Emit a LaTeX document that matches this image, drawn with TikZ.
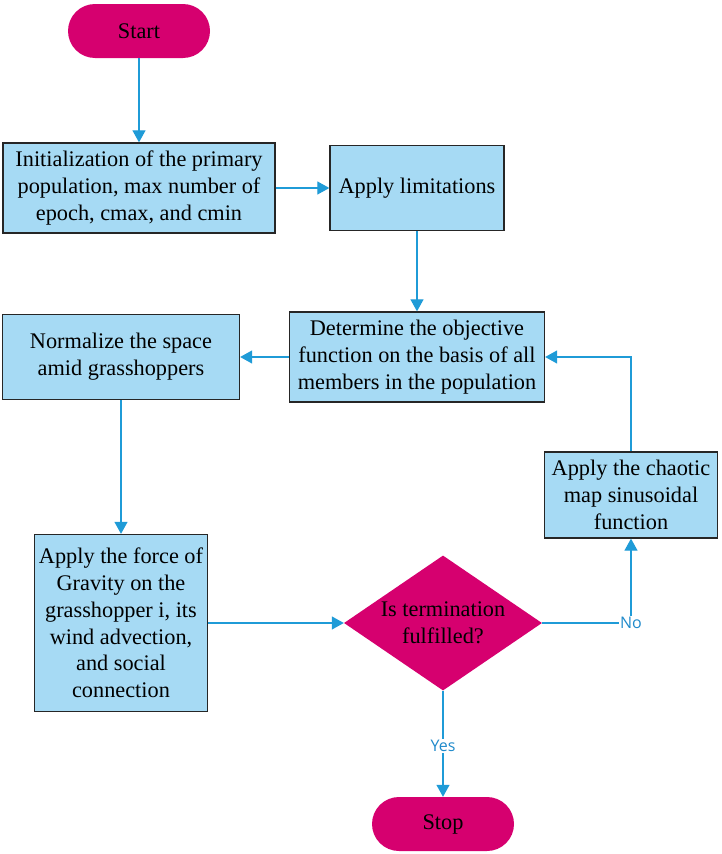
\documentclass[tikz,border=0pt]{standalone}
\usepackage{fontspec}
\setmainfont{Liberation Serif}
\newfontfamily\lblfont{Open Sans}
\usetikzlibrary{shapes.geometric,arrows.meta}
\definecolor{mag}{HTML}{D6006F}
\definecolor{boxfill}{HTML}{A6DAF4}
\definecolor{arr}{HTML}{1F9BD7}
\definecolor{lbl}{HTML}{1F8ACB}
\definecolor{edge}{HTML}{262626}
\tikzset{
  term/.style={fill=mag, draw=none, rounded corners=27pt, minimum width=142pt, minimum height=54pt, inner sep=0pt, font=\fontsize{22.3}{26.8}\selectfont},
  procbox/.style={fill=boxfill, draw=edge, line width=1.3pt, align=center, inner sep=0pt, font=\fontsize{22.3}{26.8}\selectfont},
  dec/.style={diamond, fill=mag, draw=none, aspect=1.46, minimum width=198pt, minimum height=135pt, inner sep=0pt, align=center, font=\fontsize{22.3}{26.8}\selectfont},
  conn/.style={draw=arr, line width=1.2pt, -{Triangle[length=12pt,width=13pt]}},
  edgelbl/.style={fill=white, text=lbl, inner sep=1pt, font=\lblfont\fontsize{16}{18}\selectfont}
}
\begin{document}
\begin{tikzpicture}[x=1pt,y=-1pt]
\useasboundingbox (0,0) rectangle (721,854);
\node[term] (start) at (139,31) {Start};
\node[procbox, minimum width=272pt, minimum height=90pt] (init) at (139,188) {Initialization of the primary\\population, max number of\\epoch, cmax, and cmin};
\node[procbox, minimum width=174pt, minimum height=85pt] (lim) at (417,188) {Apply limitations};
\node[procbox, minimum width=255pt, minimum height=90pt] (det) at (417,357) {Determine the objective\\function on the basis of all\\members in the population};
\node[procbox, minimum width=237pt, minimum height=85pt] (norm) at (121,357) {Normalize the space\\amid grasshoppers};
\node[procbox, minimum width=173pt, minimum height=177pt] (grav) at (121,623) {Apply the force of\\Gravity on the\\grasshopper i, its\\wind advection,\\and social\\connection};
\node[dec] (cond) at (443,623) {Is termination\\fulfilled?};
\node[procbox, minimum width=173pt, minimum height=86pt] (chao) at (631,495) {Apply the chaotic\\map sinusoidal\\function};
\node[term] (stop) at (443,824) {Stop};
\coordinate (c1) at (631,623);
\coordinate (c2) at (631,357);
\draw[conn] (start) -- (init);
\draw[conn] (init) -- (lim);
\draw[conn] (lim) -- (det);
\draw[conn] (det) -- (norm);
\draw[conn] (norm) -- (grav);
\draw[conn] (grav.east |- cond.west) -- (cond.west);
\draw[conn] (cond.east) -- (c1) node[edgelbl, pos=1] {No} -- (chao.south);
\draw[conn] (chao.north) -- (c2) -- (det.east);
\draw[conn] (cond.south) -- node[edgelbl, pos=0.52] {Yes} (stop.north);
\end{tikzpicture}
\end{document}
